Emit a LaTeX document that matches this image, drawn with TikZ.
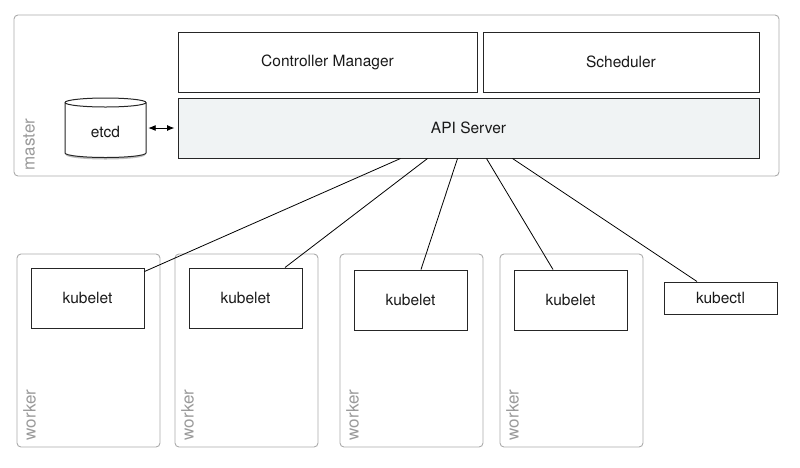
\documentclass[tikz,border=0pt]{standalone}
\usepackage{fontspec}
\setmainfont{TeX Gyre Heros}
\usetikzlibrary{arrows.meta}
\definecolor{apifill}{HTML}{F0F3F4}
\definecolor{framegray}{HTML}{ABABAB}
\definecolor{labelgray}{HTML}{9A9A9A}
\tikzset{
    component/.style = {rectangle, draw = black!85, line width = 1pt, inner sep = 0pt, text = black!90, font = \fontsize{15.5}{18}\selectfont},
    machine/.style = {rectangle, rounded corners = 4pt, draw = framegray, line width = .9pt, inner sep = 0pt},
    rolelabel/.style = {rotate = 90, anchor = base west, inner sep = 0pt, text = labelgray, font = \fontsize{17}{20}\selectfont},
    link/.style = {line width = .8pt, black}
}
\begin{document}
\begin{tikzpicture}[x = 1pt, y = -1pt]
    \useasboundingbox (0, 0) rectangle (800, 467);

    % master
    \node[machine, minimum width = 765pt, minimum height = 161pt] (master) at (396.5, 95.5) {};
    \node[rolelabel] (masterlabel) at ([xshift = 21pt, yshift = 6pt]master.south west) {master};
    \node[component, minimum width = 299pt, minimum height = 60pt] (ctrlmgr) at (327.5, 62) {Controller Manager};
    \node[component, minimum width = 276pt, minimum height = 60pt] (scheduler) at (621, 62) {Scheduler};
    \node[component, fill = apifill, minimum width = 581pt, minimum height = 60pt] (api) at (468.5, 128) {API Server};

    % etcd
    \fill[black!25] (66, 155) arc[start angle = 180, end angle = 360, x radius = 39.5pt, y radius = 4.5pt] -- cycle;
    \draw[line width = 1pt, draw = black!85, fill = white] (65, 102.5) -- (65, 153)
        arc[start angle = 180, end angle = 360, x radius = 40.5pt, y radius = 4.5pt] -- (146, 102.5)
        arc[start angle = 0, end angle = 180, x radius = 40.5pt, y radius = 4.5pt] -- cycle;
    \draw[line width = 1pt, draw = black!85] (65, 102.5) arc[start angle = 180, end angle = 360, x radius = 40.5pt, y radius = 4.5pt];
    \node[inner sep = 0pt, minimum width = 81pt, minimum height = 20pt, text = black!90, font = \fontsize{15.5}{18}\selectfont] (etcd) at (105.5, 132) {etcd};
    \draw[{Latex[length = 7.5pt, width = 6pt]}-{Latex[length = 7.5pt, width = 6pt]}, line width = .9pt, shorten <= 2pt, shorten >= 3pt] (etcd.east |- api.west) -- (api.west);

    % workers
    \foreach \wx/\ky [count = \wi] in {17/268, 175/268, 340/270, 500/270}
        {
            \node[machine, minimum width = 143pt, minimum height = 193pt] (worker\wi) at ({\wx + 71.5}, 350.5) {};
            \node[rolelabel] (workerlabel\wi) at ([xshift = 19pt, yshift = 7pt]worker\wi.south west) {worker};
            \node[component, minimum width = 113pt, minimum height = 60pt] (kubelet\wi) at ({\wx + 70.5}, {\ky + 30}) {kubelet};
        }
    \node[component, minimum width = 113pt, minimum height = 32pt] (kubectl) at (720.5, 298) {kubectl};

    \draw[link] ([xshift = 223pt]api.south west) -- ([yshift = -4pt]kubelet1.north east);
    \draw[link] ([xshift = 250pt]api.south west) -- ([xshift = 39.5pt]kubelet2.north);
    \draw[link] ([xshift = 280pt]api.south west) -- ([xshift = 10.5pt]kubelet3.north);
    \draw[link] ([xshift = 309pt]api.south west) -- ([xshift = -17.5pt]kubelet4.north);
    \draw[link] ([xshift = 335pt]api.south west) -- ([xshift = -23.5pt]kubectl.north);
\end{tikzpicture}
\end{document}
